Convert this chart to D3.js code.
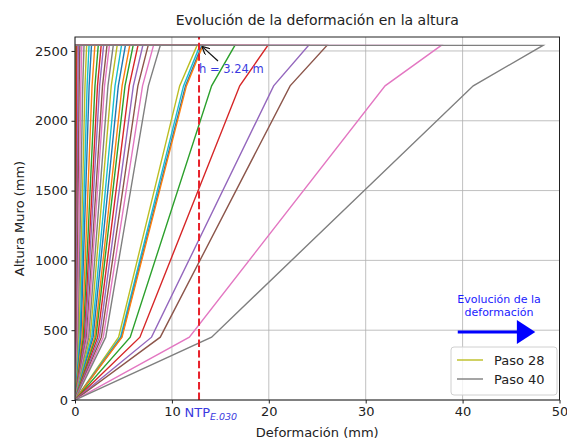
<!DOCTYPE html>
<html>
<head>
<meta charset="utf-8">
<script src="https://cdn.jsdelivr.net/npm/d3@7"></script>
<style>
  body { margin: 0; background: #fff; }
  svg { font-family: "DejaVu Sans", sans-serif; }
</style>
</head>
<body>
<div id="chart"></div>
<script>
// heights where the wall profile changes slope (mm)
const heights = [0, 450, 2250, 2540];

// deformation (mm) of each step at h = 450, 2250 and 2540
const lowerDisp = [0.02, 0.04, 0.05, 0.07, 0.13, 0.18, 0.25, 0.33, 0.43, 0.52,
                   0.61, 0.74, 0.86, 0.97, 1.06, 1.19, 1.28, 1.42, 1.57, 1.73,
                   1.87, 2.03, 2.16, 2.34, 2.52, 2.72, 2.92, 3.17,
                   4.5, 4.7, 4.8, 4.85, 5.7, 6.7, 7.9, 8.8, 11.8, 14.1];
const upperDisp = [0.04, 0.09, 0.13, 0.17, 0.3, 0.43, 0.6, 0.8, 1.03, 1.25,
                   1.46, 1.76, 2.06, 2.32, 2.54, 2.84, 3.05, 3.4, 3.74, 4.13,
                   4.47, 4.86, 5.16, 5.59, 6.02, 6.49, 6.97, 7.57,
                   10.8, 11.2, 11.4, 11.5, 14.1, 17.0, 20.5, 22.2, 32.0, 41.1];
const topDisp   = [0.05, 0.1, 0.15, 0.2, 0.35, 0.5, 0.7, 0.93, 1.2, 1.45,
                   1.7, 2.05, 2.4, 2.7, 2.95, 3.3, 3.55, 3.95, 4.35, 4.8,
                   5.2, 5.65, 6.0, 6.5, 7.0, 7.55, 8.1, 8.8,
                   12.6, 12.9, 13.1, 13.2, 16.5, 19.9, 24.1, 26.0, 37.8, 48.3];

const legendItems = [{label: "Paso 28", index: 28}, {label: "Paso 40", index: 37}];
const ntpLimit = 12.8;
const xTicks = [0, 10, 20, 30, 40, 50];
const yTicks = [0, 500, 1000, 1500, 2000, 2500];

const W = 567, H = 441;
const margin = {top: 37, right: 7.5, bottom: 41, left: 75};

const svg = d3.select("#chart").append("svg")
  .attr("width", W).attr("height", H);

const x = d3.scaleLinear().domain([0, 50]).range([margin.left, W - margin.right]);
const y = d3.scaleLinear().domain([0, 2600]).range([H - margin.bottom, margin.top]);
const color = i => d3.schemeCategory10[i % 10];

// grid
svg.append("g").selectAll("line").data(xTicks).join("line")
  .attr("x1", d => x(d)).attr("x2", d => x(d))
  .attr("y1", y(0)).attr("y2", y(2600))
  .attr("stroke", "#b0b0b0").attr("stroke-width", 0.8);
svg.append("g").selectAll("line").data(yTicks).join("line")
  .attr("x1", x(0)).attr("x2", x(50))
  .attr("y1", d => y(d)).attr("y2", d => y(d))
  .attr("stroke", "#b0b0b0").attr("stroke-width", 0.8);

// series
const series = topDisp.map((t, i) => {
  const pts = heights.map((h, k) => ({x: [0, lowerDisp[i], upperDisp[i], t][k], y: h}));
  pts.push({x: 0, y: heights[3]});
  return pts;
});
const line = d3.line().x(d => x(d.x)).y(d => y(d.y));
svg.append("clipPath").attr("id", "clip").append("rect")
  .attr("x", x(0)).attr("y", y(2600))
  .attr("width", x(50) - x(0)).attr("height", y(0) - y(2600));
svg.append("g").attr("clip-path", "url(#clip)")
  .selectAll("path").data(series).join("path")
  .attr("d", line)
  .attr("fill", "none")
  .attr("stroke", (d, i) => color(i))
  .attr("stroke-width", 1.4);

// NTP E.030 limit
svg.append("line")
  .attr("x1", x(ntpLimit)).attr("x2", x(ntpLimit))
  .attr("y1", y(0)).attr("y2", y(2600))
  .attr("stroke", "#e8202a").attr("stroke-width", 2)
  .attr("stroke-dasharray", "7.4,3.2");

// axes
const xAxis = svg.append("g").attr("transform", `translate(0,${y(0)})`)
  .call(d3.axisBottom(x).tickValues(xTicks).tickFormat(d3.format("d")).tickSize(3.5).tickPadding(3.5));
const yAxis = svg.append("g").attr("transform", `translate(${x(0)},0)`)
  .call(d3.axisLeft(y).tickValues(yTicks).tickFormat(d3.format("d")).tickSize(3.5).tickPadding(3.5));
[xAxis, yAxis].forEach(a => {
  a.select(".domain").remove();
  a.selectAll("text").attr("font-size", 13).attr("fill", "#222")
    .attr("font-family", "DejaVu Sans");
  a.selectAll("line").attr("stroke", "#222");
});
svg.append("rect")
  .attr("x", x(0)).attr("y", y(2600))
  .attr("width", x(50) - x(0)).attr("height", y(0) - y(2600))
  .attr("fill", "none").attr("stroke", "#222").attr("stroke-width", 1);

// titles
svg.append("text").attr("x", (x(0) + x(50)) / 2).attr("y", 25)
  .attr("text-anchor", "middle").attr("font-size", 14).attr("fill", "#222")
  .text("Evolución de la deformación en la altura");
svg.append("text").attr("x", (x(0) + x(50)) / 2).attr("y", 437)
  .attr("text-anchor", "middle").attr("font-size", 13).attr("fill", "#222")
  .text("Deformación (mm)");
svg.append("text")
  .attr("transform", `translate(24,${(y(0) + y(2600)) / 2}) rotate(-90)`)
  .attr("text-anchor", "middle").attr("font-size", 13).attr("fill", "#222")
  .text("Altura Muro (mm)");

// NTP label
const ntp = svg.append("text").attr("x", x(11.3)).attr("y", 417)
  .attr("font-size", 13).attr("fill", "#3a3ae0");
ntp.append("tspan").text("NTP");
ntp.append("tspan").attr("dy", 3).attr("font-size", 9.5).attr("font-style", "italic").text("E.030");

// annotation
svg.append("defs").append("marker")
  .attr("id", "ah").attr("viewBox", "0 0 10 10").attr("refX", 10).attr("refY", 5)
  .attr("markerWidth", 7).attr("markerHeight", 7).attr("orient", "auto")
  .append("path").attr("d", "M0,0 L10,5 L0,10").attr("fill", "none")
  .attr("stroke", "#111").attr("stroke-width", 1.5);
svg.append("line")
  .attr("x1", 218).attr("y1", 61).attr("x2", x(13.1)).attr("y2", y(2540) + 1)
  .attr("stroke", "#111").attr("stroke-width", 1.2).attr("marker-end", "url(#ah)");
svg.append("text").attr("x", x(12.8)).attr("y", 73)
  .attr("font-size", 11.5).attr("fill", "#3a3ae0").text("h = 3.24 m");

// evolution arrow
const ev = svg.append("text").attr("x", 499).attr("y", 303)
  .attr("text-anchor", "middle").attr("font-size", 11).attr("fill", "#1a1aff");
ev.append("tspan").attr("x", 499).text("Evolución de la");
ev.append("tspan").attr("x", 499).attr("dy", 13).text("deformación");
svg.append("line").attr("x1", x(39.5)).attr("x2", x(45.8)).attr("y1", 332).attr("y2", 332)
  .attr("stroke", "#0000ff").attr("stroke-width", 3);
svg.append("path")
  .attr("d", `M${x(45.6)},320 L${x(47.5)},332 L${x(45.6)},344 Z`)
  .attr("fill", "#0000ff");

// legend
const lg = svg.append("g").attr("transform", "translate(451,347)");
lg.append("rect").attr("width", 106).attr("height", 48).attr("rx", 3)
  .attr("fill", "#fff").attr("fill-opacity", 0.8)
  .attr("stroke", "#d0d0d0").attr("stroke-width", 1);
legendItems.forEach((d, k) => {
  const row = lg.append("g").attr("transform", `translate(0,${13 + k * 19})`);
  row.append("line").attr("x1", 6).attr("x2", 32).attr("y1", 0).attr("y2", 0)
    .attr("stroke", color(d.index)).attr("stroke-width", 1.4);
  row.append("text").attr("x", 43).attr("y", 4.5).attr("font-size", 13)
    .attr("fill", "#222").text(d.label);
});
</script>
</body>
</html>
